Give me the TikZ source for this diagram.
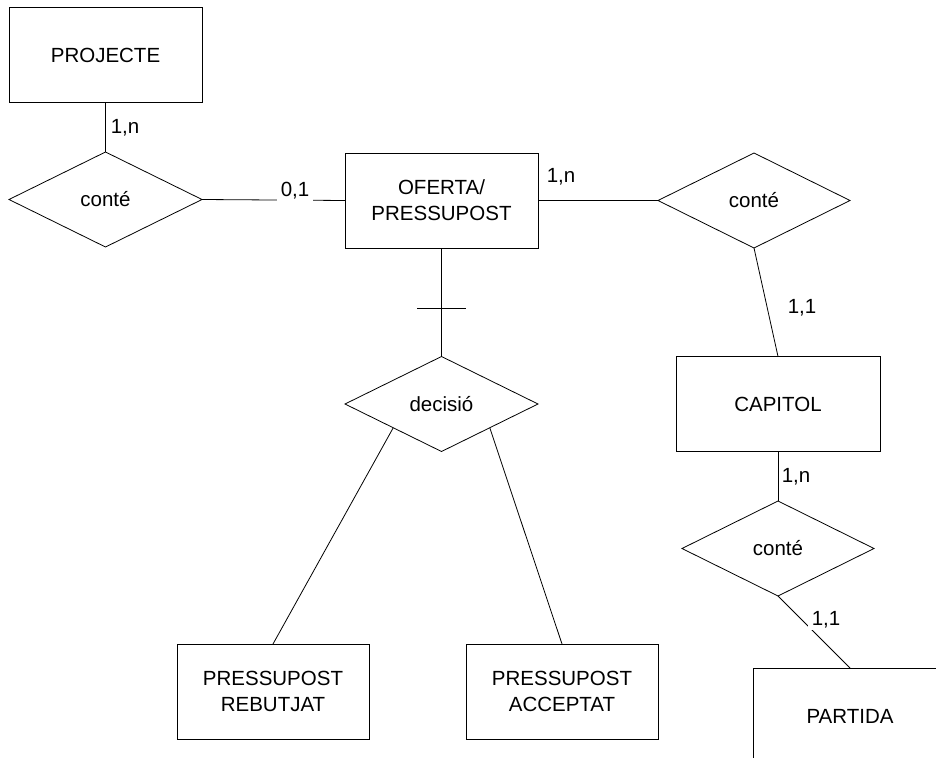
\documentclass[tikz,border=0pt]{standalone}
\usepackage{fontspec}
\setmainfont{Liberation Sans}
\usetikzlibrary{shapes.geometric,calc}
\begin{document}
\begin{tikzpicture}[x=1pt,y=-1pt, line width=0.8pt,
  every node/.style={font=\fontsize{20.5}{26}\selectfont},
  ent/.style={draw, rectangle, minimum width=193pt, minimum height=95pt, align=center, inner sep=0pt, outer sep=0pt},
  rel/.style={draw, diamond, minimum width=193pt, minimum height=95pt, inner sep=0pt, outer sep=0pt},
  card/.style={inner sep=1pt},
  cardw/.style={fill=white, inner xsep=4pt, inner ysep=0pt, minimum height=22pt}]
\useasboundingbox (0,0) rectangle (936,757);
\clip (0,0) rectangle (936,757);
% entities
\node[ent] (proj) at (105.5,55) {PROJECTE};
\node[ent] (of) at (441.5,200.5) {OFERTA/\\PRESSUPOST};
\node[ent, minimum width=204pt] (cap) at (778,404) {CAPITOL};
\node[ent, minimum width=192pt] (reb) at (273,691.5) {PRESSUPOST\\REBUTJAT};
\node[ent, minimum width=192pt] (acc) at (562,691.5) {PRESSUPOST\\ACCEPTAT};
\node[ent, minimum width=194pt, minimum height=96pt] (part) at (850,716) {PARTIDA};
% relationships
\node[rel] (c1) at (105.5,199.5) {conté};
\node[rel, minimum width=192pt] (c2) at (754,200.5) {conté};
\node[rel] (dec) at (441.5,404) {decisió};
\node[rel, minimum width=192pt] (c3) at (778,548.5) {conté};
% connectors
\draw (proj) -- (c1);
\draw (c1.east) -- (of.west);
\draw (of.east) -- (c2.west);
\draw (c2.south) -- (cap.north);
\draw (of.south) -- (dec.north);
\draw ($(of.south)!0.553!(dec.north)$) coordinate (tick) ++(-24.5,0) -- ++(49,0);
\draw ($(dec.west)!0.5!(dec.south)$) -- (reb.north);
\draw ($(dec.east)!0.5!(dec.south)$) -- (acc.north);
\draw (cap.south) -- (c3.north);
\draw (c3.south) -- (part.north);
% cardinalities
\node[card] (k1) at (125,128) {1,n};
\node[cardw] (k2) at (295,191) {0,1};
\node[card] (k3) at (561,177) {1,n};
\node[card] (k4) at (802,308) {1,1};
\node[card] (k5) at (796,477) {1,n};
\node[cardw, minimum height=20pt] (k6) at (826,620) {1,1};
\end{tikzpicture}
\end{document}
